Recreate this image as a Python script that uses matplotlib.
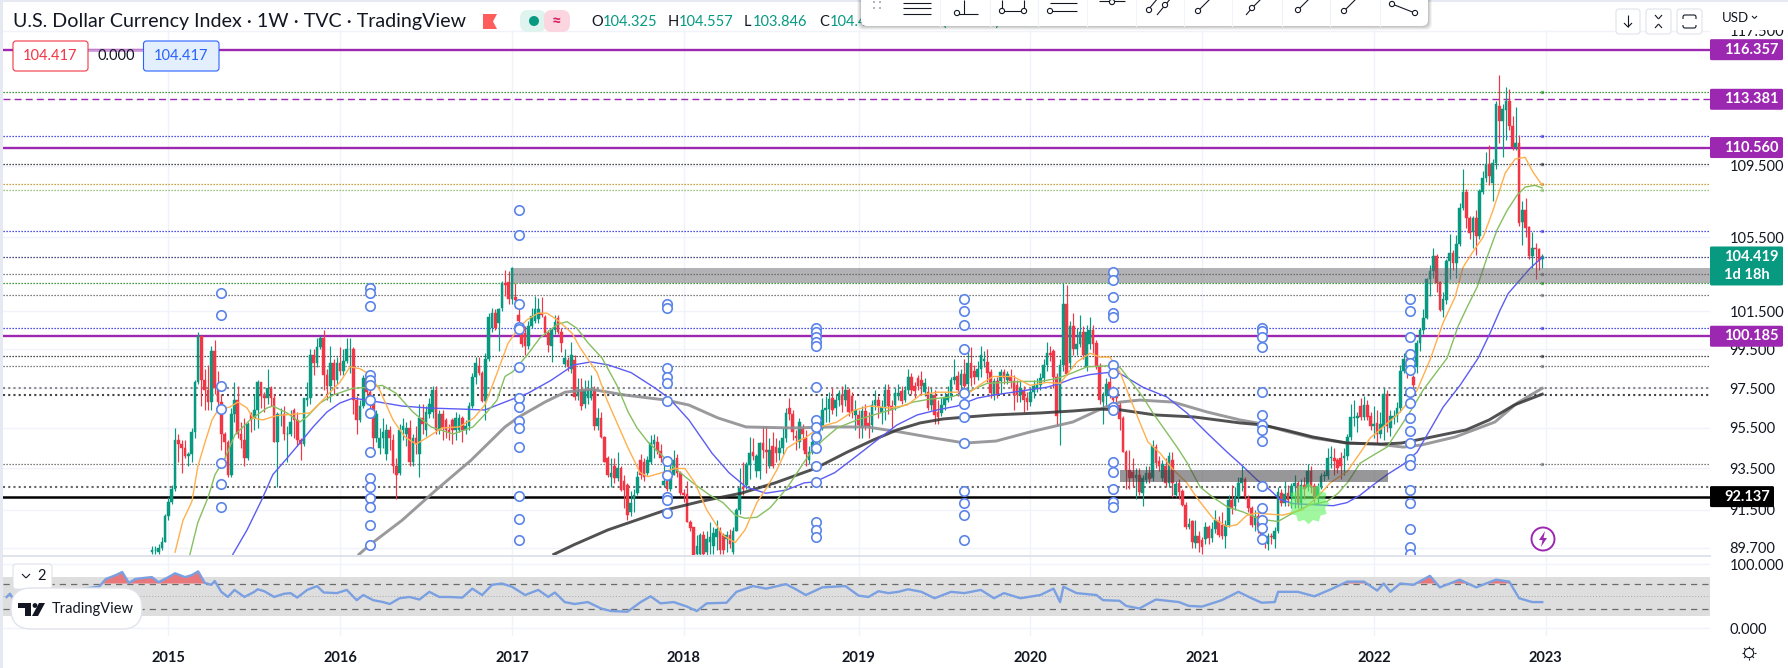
"""Weekly DXY chart with moving averages, level lines and an RSI pane."""
import matplotlib
matplotlib.use("Agg")
import matplotlib.pyplot as plt
import numpy as np
from matplotlib.patches import Circle, FancyBboxPatch, Polygon, Rectangle
from matplotlib.path import Path
from matplotlib.ticker import FormatStrFormatter, NullLocator

plt.rcParams["font.family"] = ["Lato", "DejaVu Sans"]

# weekly candles, oldest first
opens = [
    89.5, 89.6, 89.5, 89.7, 90.0, 91.2, 91.9, 92.5, 94.9, 94.7,
    94.5, 94.1, 94.2, 95.3, 97.8, 100.2, 97.9, 97.4, 96.8, 99.4,
    97.5, 96.8, 95.2, 94.8, 93.2, 96.2, 96.9, 95.2, 94.9, 94.0,
    96.2, 96.0, 96.4, 97.8, 97.1, 97.0, 97.5, 97.0, 94.8, 96.2,
    96.2, 95.2, 95.2, 96.4, 95.9, 94.9, 94.7, 96.9, 97.0, 99.2,
    98.8, 99.6, 100.1, 98.2, 97.6, 98.8, 97.9, 98.8, 98.4, 98.9,
    99.5, 99.5, 96.9, 95.9, 96.6, 98.0, 97.3, 96.8, 95.0, 94.5,
    95.0, 94.2, 95.4, 94.9, 93.6, 93.3, 95.4, 95.2, 95.5, 93.8,
    95.0, 94.2, 96.0, 95.4, 96.2, 96.3, 97.4, 95.4, 96.2, 95.9,
    95.4, 95.9, 95.4, 95.4, 96.0, 95.4, 95.6, 96.6, 98.1, 98.65,
    98.3, 96.85, 99.0, 100.6, 101.4, 100.9, 101.7, 103.0, 103.05, 102.15,
    102.25, 101.3, 100.35, 100.35, 99.65, 100.7, 101.0, 101.1, 101.4, 101.2,
    100.35, 99.65, 100.5, 101.15, 100.4, 98.75, 98.95, 98.5, 98.95, 97.1,
    97.4, 96.7, 97.0, 97.0, 97.4, 95.6, 96.0, 95.05, 94.0, 93.1,
    93.6, 93.05, 93.5, 92.9, 92.7, 91.4, 92.0, 92.3, 93.9, 93.8,
    93.3, 93.8, 94.7, 94.8, 94.35, 92.7, 92.9, 92.5, 93.2, 94.0,
    93.3, 92.3, 92.25, 90.9, 90.7, 89.4, 89.4, 90.3, 89.5, 90.0,
    89.8, 90.2, 90.5, 90.3, 90.1, 90.3, 89.5, 90.5, 91.5, 92.6,
    92.7, 93.65, 94.3, 93.4, 93.4, 94.75, 94.4, 93.6, 94.6, 94.55,
    94.25, 94.5, 95.0, 96.5, 96.2, 95.1, 94.8, 95.5, 95.0, 93.9,
    94.3, 94.8, 94.9, 95.5, 96.4, 96.45, 97.0, 96.5, 96.9, 97.15,
    96.9, 97.4, 97.1, 96.15, 96.15, 95.5, 96.35, 95.75, 95.65, 96.65,
    96.9, 96.3, 96.5, 97.4, 96.6, 96.65, 97.1, 97.35, 96.9, 97.4,
    98.1, 97.6, 98.0, 97.9, 97.3, 97.3, 96.65, 97.15, 96.3, 96.25,
    96.65, 96.9, 97.1, 97.9, 98.15, 97.65, 98.25, 97.7, 98.8, 98.4,
    98.05, 98.5, 98.9, 98.85, 98.35, 97.15, 97.85, 97.85, 98.35, 97.9,
    98.15, 97.85, 97.65, 97.15, 97.4, 97.0, 96.8, 97.3, 97.5, 97.65,
    98.0, 98.7, 99.3, 99.4, 98.1, 96.3, 98.7, 101.9, 98.8, 100.7,
    99.5, 99.8, 100.4, 98.6, 99.8, 100.5, 99.85, 98.65, 96.8, 97.1,
    97.8, 97.3, 97.2, 96.65, 96.0, 94.3, 93.45, 93.35, 93.05, 93.2,
    92.3, 92.95, 93.3, 93.05, 94.55, 93.85, 93.05, 93.6, 92.8, 93.9,
    92.2, 92.8, 92.4, 91.75, 90.7, 90.95, 89.95, 90.25, 90.05, 90.1,
    90.7, 90.15, 90.6, 90.95, 90.8, 90.25, 90.8, 91.95, 91.7, 92.1,
    92.8, 93.0, 92.05, 91.6, 90.8, 91.2, 90.6, 90.1, 89.9, 90.25,
    90.1, 90.5, 92.3, 91.85, 92.3, 92.1, 92.65, 92.8, 91.85, 92.7,
    92.6, 93.4, 92.65, 92.1, 92.6, 93.15, 93.15, 94.0, 94.0, 93.9,
    94.0, 94.0, 94.1, 95.05, 96.0, 96.0, 96.6, 96.05, 96.65, 96.1,
    95.6, 95.75, 95.2, 95.55, 97.2, 95.5, 96.0, 96.1, 96.5, 98.4,
    99.0, 98.6, 98.05, 98.6, 99.85, 100.5, 101.15, 103.2, 103.65, 104.45,
    103.05, 101.55, 102.1, 104.2, 104.65, 104.1, 105.15, 107.1, 108.05, 106.55,
    105.8, 106.55, 105.55, 108.05, 108.8, 109.6, 108.55, 109.65, 113.0, 112.1,
    112.75, 113.3, 111.8, 110.6, 110.8, 106.35, 107.0, 106.05, 104.45, 104.9,
    104.85, 104.325,
]
closes = [
    89.6, 89.6, 89.7, 90.0, 91.2, 91.9, 92.5, 94.9, 94.7, 94.5,
    94.1, 94.2, 95.3, 97.8, 100.2, 97.9, 97.4, 96.8, 99.4, 97.5,
    96.8, 95.2, 94.8, 93.2, 96.2, 96.9, 95.2, 94.9, 94.0, 95.7,
    95.9, 96.4, 97.8, 97.1, 97.0, 97.5, 97.0, 94.8, 96.2, 96.2,
    95.2, 95.2, 95.8, 95.9, 94.9, 94.7, 97.0, 97.0, 99.2, 98.8,
    99.6, 100.1, 98.2, 97.6, 98.8, 97.9, 98.8, 98.4, 98.9, 99.5,
    99.5, 96.9, 95.9, 96.6, 98.0, 97.3, 96.8, 95.0, 96.2, 95.0,
    95.3, 95.4, 95.0, 93.6, 93.2, 95.4, 95.6, 95.5, 93.8, 95.0,
    94.7, 96.0, 95.7, 96.3, 96.7, 97.4, 95.4, 96.2, 95.5, 95.4,
    95.3, 95.4, 96.0, 96.0, 95.4, 95.6, 96.6, 98.1, 98.8, 98.3,
    96.85, 99.0, 101.2, 101.4, 100.6, 101.6, 103.0, 102.9, 102.15, 103.8,
    102.1, 101.0, 99.8, 99.7, 100.7, 101.25, 101.6, 101.6, 101.3, 100.35,
    99.75, 100.5, 100.95, 100.4, 99.85, 99.05, 98.6, 99.2, 97.05, 97.4,
    96.6, 97.4, 97.4, 97.4, 95.6, 96.0, 95.05, 93.8, 93.2, 93.3,
    93.05, 93.5, 92.45, 92.45, 91.25, 91.85, 92.2, 93.1, 93.2, 93.1,
    93.9, 94.75, 94.9, 94.35, 94.0, 92.9, 92.5, 93.2, 93.9, 93.3,
    92.3, 92.2, 90.9, 90.65, 89.3, 89.8, 90.3, 89.4, 90.1, 90.2,
    90.4, 90.6, 89.6, 89.6, 90.3, 89.9, 90.5, 91.5, 92.55, 92.5,
    93.65, 94.25, 94.1, 94.1, 94.75, 94.4, 94.3, 94.4, 93.6, 94.25,
    94.5, 95.0, 96.25, 96.2, 95.3, 95.0, 95.8, 95.2, 94.2, 94.3,
    94.8, 95.2, 95.5, 96.4, 96.5, 96.95, 96.4, 96.9, 97.25, 96.65,
    97.4, 96.3, 96.3, 96.4, 95.65, 96.35, 95.6, 95.6, 96.65, 96.9,
    96.6, 96.55, 97.4, 96.6, 96.4, 97.25, 97.25, 96.85, 97.4, 98.1,
    97.4, 97.35, 97.6, 97.6, 97.75, 96.5, 97.15, 96.15, 96.05, 96.65,
    97.05, 97.1, 97.9, 98.1, 97.4, 98.25, 97.6, 98.8, 98.0, 98.1,
    98.5, 99.2, 99.0, 98.3, 97.25, 97.85, 97.15, 98.35, 98.0, 98.25,
    97.85, 97.15, 97.15, 97.5, 96.9, 96.8, 97.3, 97.6, 97.65, 98.0,
    98.7, 99.3, 99.2, 98.1, 96.1, 98.7, 101.9, 98.25, 100.7, 99.5,
    99.8, 100.4, 99.2, 100.4, 100.5, 99.8, 98.6, 96.9, 97.1, 97.7,
    97.2, 96.9, 97.0, 95.95, 94.3, 93.45, 93.05, 93.05, 93.2, 92.35,
    93.05, 93.3, 93.0, 94.6, 93.75, 93.6, 93.7, 92.8, 94.1, 92.8,
    92.75, 92.35, 91.75, 90.7, 90.85, 90.0, 90.25, 89.95, 89.75, 90.7,
    90.15, 90.6, 91.0, 90.3, 90.25, 90.8, 91.95, 91.6, 92.1, 92.8,
    93.05, 92.15, 91.6, 90.8, 91.2, 90.6, 90.2, 90.0, 90.25, 90.2,
    90.5, 92.35, 91.85, 92.25, 91.95, 92.65, 92.8, 91.85, 92.7, 92.5,
    93.4, 92.6, 92.1, 92.6, 93.15, 93.2, 94.0, 94.05, 93.85, 93.5,
    93.6, 94.1, 95.05, 96.05, 96.05, 96.1, 96.05, 96.65, 96.05, 95.6,
    95.7, 95.2, 95.7, 97.2, 95.6, 96.1, 96.1, 96.5, 98.4, 99.0,
    98.6, 98.6, 97.65, 99.85, 100.5, 101.15, 103.2, 103.65, 104.45, 103.0,
    101.55, 102.15, 104.2, 104.65, 104.1, 105.15, 107.1, 108.0, 106.55, 105.75,
    106.55, 105.55, 108.1, 108.8, 109.6, 108.95, 109.65, 113.1, 112.1, 112.8,
    113.3, 111.8, 110.6, 110.8, 106.3, 107.0, 106.0, 104.45, 104.9, 104.85,
    104.2, 104.419,
]
highs = [
    89.8, 89.8, 89.9, 90.2, 91.3, 92.1, 92.7, 95.5, 95.2, 94.9,
    94.9, 94.3, 95.5, 97.9, 100.4, 100.2, 98.5, 98.7, 99.7, 100.0,
    98.4, 97.2, 95.3, 94.9, 96.5, 97.8, 97.6, 95.8, 96.0, 95.8,
    96.3, 97.2, 97.9, 97.8, 97.3, 98.5, 97.6, 97.2, 96.3, 96.5,
    96.6, 95.6, 96.4, 96.5, 96.3, 95.0, 97.0, 97.8, 99.5, 99.5,
    100.1, 100.2, 100.5, 98.5, 99.7, 99.0, 99.1, 99.6, 99.5, 100.1,
    100.1, 99.6, 97.1, 96.9, 98.2, 98.2, 97.5, 96.9, 96.4, 95.5,
    96.0, 95.7, 95.6, 95.2, 94.0, 95.7, 96.0, 95.8, 95.9, 95.2,
    95.6, 96.7, 96.7, 96.6, 97.0, 97.6, 97.6, 96.4, 96.4, 96.0,
    95.7, 96.0, 96.3, 96.2, 96.1, 95.9, 96.8, 98.3, 99.1, 99.1,
    98.4, 99.3, 101.4, 101.7, 101.6, 101.7, 103.1, 103.7, 103.65, 103.9,
    103.0, 101.7, 100.7, 100.7, 101.0, 101.7, 102.3, 102.2, 102.25, 101.3,
    100.5, 100.6, 101.3, 101.3, 100.6, 99.5, 99.1, 99.9, 99.2, 98.0,
    98.0, 97.9, 97.9, 98.2, 97.6, 96.5, 96.3, 95.1, 94.1, 94.0,
    94.0, 94.3, 93.6, 93.2, 92.8, 92.4, 92.5, 93.4, 94.2, 94.0,
    94.1, 95.15, 95.2, 95.1, 94.7, 94.0, 93.2, 93.7, 94.4, 94.2,
    93.4, 92.5, 92.9, 91.0, 90.7, 90.3, 90.4, 90.5, 90.5, 90.9,
    90.7, 91.0, 90.7, 90.4, 90.5, 90.6, 90.7, 91.6, 93.5, 93.8,
    93.8, 95.05, 95.0, 94.2, 94.8, 95.6, 95.6, 95.0, 95.3, 95.0,
    94.9, 95.5, 96.5, 97.0, 96.4, 95.4, 96.0, 95.7, 95.4, 94.6,
    95.2, 95.6, 96.0, 97.0, 97.1, 97.3, 97.5, 97.2, 97.4, 97.6,
    97.7, 97.5, 97.3, 96.9, 96.4, 96.6, 96.7, 96.3, 96.9, 97.4,
    97.1, 96.9, 97.7, 97.7, 96.9, 97.5, 97.7, 97.6, 97.6, 98.5,
    98.3, 97.8, 98.2, 98.4, 98.0, 97.6, 97.5, 97.4, 96.9, 97.0,
    97.3, 97.6, 98.1, 99.0, 98.4, 98.5, 99.0, 99.4, 99.6, 98.7,
    98.9, 99.7, 99.4, 99.5, 98.5, 98.0, 98.1, 98.5, 98.5, 98.4,
    98.5, 98.2, 97.9, 97.9, 97.6, 97.3, 97.5, 97.9, 98.0, 98.3,
    99.0, 99.9, 99.7, 99.5, 98.3, 99.0, 103.0, 102.9, 101.0, 101.4,
    100.6, 101.3, 100.7, 100.8, 101.2, 100.8, 100.0, 98.8, 97.3, 98.0,
    98.1, 97.6, 97.4, 96.8, 96.1, 94.4, 94.4, 94.0, 93.5, 93.5,
    93.2, 93.6, 93.6, 94.9, 94.7, 94.1, 93.9, 94.0, 94.3, 94.3,
    92.9, 93.0, 92.5, 91.9, 91.1, 91.0, 91.0, 90.5, 90.2, 90.9,
    90.8, 90.9, 91.5, 91.2, 91.4, 91.0, 92.2, 92.7, 92.6, 93.1,
    93.6, 93.1, 92.2, 91.7, 91.5, 91.4, 90.8, 90.2, 90.4, 90.4,
    90.7, 92.6, 92.5, 92.9, 92.7, 92.8, 93.2, 92.9, 93.0, 93.1,
    93.7, 93.6, 92.8, 92.8, 93.3, 93.4, 94.5, 94.6, 94.5, 94.0,
    94.3, 94.5, 95.2, 96.7, 96.9, 96.3, 97.0, 97.1, 96.9, 96.3,
    96.6, 96.4, 96.3, 97.5, 97.4, 96.4, 96.4, 96.8, 98.7, 99.3,
    99.2, 99.0, 98.2, 100.0, 100.6, 101.6, 103.3, 104.0, 104.9, 104.6,
    103.1, 102.5, 104.3, 105.7, 104.8, 105.6, 107.4, 109.3, 108.2, 106.7,
    106.7, 107.0, 108.2, 109.2, 110.3, 110.7, 109.9, 113.3, 114.8, 113.1,
    114.1, 114.0, 112.4, 112.9, 111.3, 107.5, 107.7, 106.1, 105.8, 105.2,
    104.9, 104.557,
]
lows = [
    89.4, 89.4, 89.4, 89.6, 90.0, 91.0, 91.8, 92.4, 93.8, 93.3,
    94.0, 93.6, 93.8, 95.0, 97.7, 96.6, 96.4, 96.4, 96.4, 97.2,
    96.6, 94.4, 94.0, 93.1, 93.1, 95.8, 95.0, 94.5, 93.6, 93.9,
    95.3, 95.4, 95.5, 96.5, 96.3, 96.7, 96.6, 94.8, 92.6, 95.6,
    94.9, 93.8, 95.1, 95.0, 94.6, 93.9, 94.6, 96.6, 96.7, 98.2,
    98.6, 99.5, 97.4, 96.9, 96.8, 97.2, 97.7, 98.2, 98.2, 98.8,
    98.3, 96.2, 95.2, 95.8, 96.5, 97.0, 96.2, 94.2, 94.8, 94.2,
    94.5, 93.9, 94.4, 93.3, 92.0, 93.2, 94.9, 94.6, 93.6, 93.6,
    94.2, 93.1, 95.2, 95.1, 96.0, 96.0, 95.2, 95.2, 94.9, 95.0,
    94.9, 94.7, 94.9, 95.3, 94.8, 95.2, 95.4, 96.5, 97.7, 98.2,
    96.8, 95.9, 98.9, 100.4, 100.5, 99.4, 101.5, 102.3, 101.9, 101.9,
    101.7, 100.9, 99.6, 99.2, 99.5, 100.6, 100.9, 100.9, 101.2, 100.2,
    99.35, 98.85, 100.3, 100.3, 99.35, 98.6, 98.4, 98.3, 96.9, 96.9,
    96.4, 96.5, 96.7, 96.9, 95.4, 95.4, 95.0, 93.8, 93.1, 92.6,
    92.8, 92.9, 92.4, 91.6, 91.0, 91.2, 91.4, 92.2, 93.0, 92.9,
    93.2, 93.7, 94.0, 94.2, 93.8, 92.6, 92.4, 92.4, 93.2, 93.1,
    92.2, 91.9, 90.9, 90.5, 89.3, 89.3, 89.3, 89.3, 89.3, 89.4,
    89.4, 89.6, 89.4, 89.4, 89.5, 89.7, 89.4, 90.5, 91.3, 92.2,
    92.5, 93.0, 93.9, 93.1, 93.0, 94.0, 93.3, 93.5, 93.5, 93.8,
    93.9, 94.2, 94.8, 95.9, 94.9, 94.4, 94.5, 94.4, 93.6, 93.7,
    94.2, 94.6, 94.7, 95.4, 95.8, 95.8, 96.2, 96.1, 96.6, 96.3,
    96.6, 96.1, 96.0, 95.4, 95.0, 95.0, 95.4, 95.0, 95.3, 96.4,
    96.0, 95.7, 95.9, 96.2, 95.5, 96.4, 96.9, 96.7, 96.8, 97.2,
    97.2, 97.0, 97.4, 97.2, 97.1, 96.4, 96.4, 95.7, 95.7, 96.1,
    96.4, 96.8, 96.9, 97.7, 97.1, 97.4, 97.4, 97.4, 97.6, 97.7,
    97.9, 98.1, 98.6, 97.8, 97.0, 96.9, 97.0, 97.2, 97.7, 97.7,
    97.5, 96.4, 96.8, 96.8, 96.3, 96.4, 96.6, 97.0, 97.3, 97.4,
    97.8, 98.4, 98.9, 97.5, 95.6, 94.65, 98.4, 98.2, 98.5, 99.2,
    99.2, 99.6, 99.0, 98.4, 99.5, 99.3, 98.5, 96.7, 95.7, 96.6,
    97.0, 96.6, 96.8, 95.4, 94.3, 92.5, 92.5, 92.6, 92.0, 92.2,
    91.7, 92.8, 92.8, 92.9, 93.5, 93.4, 92.9, 92.6, 92.6, 92.1,
    92.1, 92.0, 91.7, 90.6, 90.6, 89.7, 89.7, 89.5, 89.4, 89.9,
    89.9, 90.0, 90.4, 90.2, 90.1, 89.7, 90.7, 91.3, 91.5, 91.9,
    92.4, 92.0, 91.4, 90.7, 90.5, 90.4, 89.9, 89.7, 89.6, 89.9,
    89.7, 90.4, 91.7, 91.7, 91.7, 91.6, 91.6, 91.6, 91.6, 92.0,
    92.4, 92.3, 91.9, 91.8, 92.5, 92.9, 93.0, 93.5, 93.2, 93.3,
    93.0, 93.2, 93.9, 94.9, 95.6, 95.3, 95.9, 95.9, 95.9, 95.4,
    95.0, 94.75, 95.0, 94.9, 95.3, 95.1, 95.7, 95.8, 96.3, 98.3,
    98.0, 98.2, 97.5, 98.3, 99.4, 100.3, 101.1, 102.3, 103.3, 102.5,
    101.5, 101.2, 101.9, 103.2, 103.7, 103.3, 105.0, 107.0, 106.0, 105.4,
    104.9, 104.5, 105.4, 107.9, 108.6, 108.4, 107.5, 109.3, 110.8, 110.0,
    111.0, 111.6, 110.4, 110.4, 106.1, 105.1, 105.5, 104.3, 103.8, 103.2,
    103.7, 103.846,
]

# moving averages, read per week number
ma_orange_x = [7, 9.4, 12.1, 13.9, 16, 18.2, 20, 23.6, 26, 28.8, 30.6, 33.6, 37.3, 39.7, 43.9, 47.8, 50.9, 53.9, 56.9, 60, 63, 66, 69, 73, 76.6, 80, 83.6, 87.8, 93, 97.5, 100.8, 103.9, 107.8, 110.5, 113.6, 116.9, 119.6, 122.7, 127.2, 129.6, 134.8, 137.8, 141.1, 144.2, 147.8, 150.2, 154.5, 158.4, 161.4, 164.4, 168, 172.9, 176.6, 179.6, 183.2, 186.3, 189.3, 192.3, 196.2, 197.8, 202.3, 207.5, 212.9, 217.4, 223.5, 228.7, 232.6, 237.7, 243.8, 247.7, 251.4, 254.7, 260.8, 265.9, 271, 275, 280.1, 284.1, 287.1, 290.1, 293.2, 295.6, 299.2, 301.6, 305.3, 309.2, 313.4, 316.8, 321.3, 325.6, 328.6, 331.6, 334.6, 338, 342.5, 348.3, 352.8, 356.8, 361.9, 365.8, 368.9, 372.8, 378, 383.1, 387, 391, 394.6, 397, 400, 403.1, 406.1, 409.8, 412.8, 415.8, 418.2, 421]
ma_orange = [89.5, 91.0, 91.9, 93.6, 94.75, 95.9, 96.4, 96.55, 96.8, 96.5, 96.0, 95.9, 96.1, 96.15, 96.2, 96.25, 96.75, 97.3, 97.8, 98.6, 98.5, 98.2, 97.4, 95.9, 95.05, 94.7, 95.05, 95.5, 95.55, 96.0, 96.65, 98.0, 99.8, 100.5, 101.05, 101.4, 101.4, 101.05, 100.35, 99.6, 98.3, 96.9, 95.65, 94.5, 93.3, 93.1, 93.3, 93.5, 93.5, 92.8, 91.5, 90.3, 89.95, 90.55, 91.85, 92.6, 93.45, 94.5, 94.9, 95.0, 95.55, 95.8, 96.4, 96.6, 96.5, 96.65, 97.15, 97.3, 97.3, 97.3, 97.75, 98.1, 98.1, 97.65, 97.8, 97.75, 98.85, 99.3, 99.1, 99.1, 98.3, 97.25, 95.75, 94.8, 94.25, 93.45, 92.8, 92.0, 91.1, 90.7, 90.8, 91.25, 91.35, 91.3, 91.25, 91.5, 92.1, 92.8, 93.35, 94.25, 95.0, 95.55, 96.3, 97.4, 98.95, 100.9, 102.25, 103.85, 104.7, 105.5, 107.0, 109.1, 109.9, 110.0, 109.15, 108.4]
ma_green_x = [11.5, 13.9, 17, 19.1, 22.1, 25.1, 29.7, 34.8, 36.6, 40.9, 44.8, 46.9, 50.9, 54.8, 60.9, 66, 69.7, 73.9, 79, 84.5, 91.2, 97.2, 101.5, 104.5, 106.9, 109.3, 113.6, 117.5, 122.7, 125.7, 128.7, 132, 136.3, 140.8, 144.2, 146.9, 150.2, 153.8, 158.4, 163.8, 169, 172.9, 176.6, 179.6, 183.2, 187.2, 192.3, 196.2, 199.3, 203.2, 207.5, 213.5, 220.5, 225.6, 230.5, 235.6, 241.7, 246.8, 252.9, 258.9, 263.8, 268.9, 274.1, 278.9, 283.2, 289.2, 293.2, 296.2, 300.1, 303.1, 307.4, 310.4, 313.4, 317.4, 321.3, 325.6, 330.4, 335.6, 341, 345.5, 350.7, 355.8, 359.2, 362.2, 365.8, 369.8, 374, 378, 381.9, 384.9, 388, 392.2, 395.5, 398.2, 401.3, 404.3, 407.3, 410.4, 413.4, 415.8, 418.8, 421]
ma_green = [89.4, 90.9, 92.1, 93.2, 94.0, 95.15, 95.9, 96.5, 96.6, 96.25, 95.8, 96.05, 96.75, 97.15, 97.5, 97.55, 97.65, 97.25, 96.3, 95.55, 95.2, 95.55, 96.3, 96.9, 98.1, 98.35, 99.2, 100.1, 100.8, 100.95, 100.6, 99.85, 99.05, 97.65, 96.3, 95.5, 94.8, 94.25, 93.5, 92.8, 92.2, 91.85, 91.25, 91.1, 91.15, 91.6, 92.55, 93.5, 94.25, 94.9, 95.5, 95.9, 96.25, 96.5, 96.8, 96.95, 97.05, 97.3, 97.75, 97.8, 97.85, 97.85, 98.0, 98.3, 98.6, 98.65, 98.55, 97.9, 97.05, 96.25, 95.25, 94.55, 93.8, 92.6, 92.1, 91.65, 91.4, 91.05, 90.95, 91.35, 91.75, 91.9, 92.3, 92.85, 93.75, 94.15, 94.55, 95.55, 96.55, 97.4, 98.1, 99.05, 100.7, 101.7, 102.8, 104.4, 105.9, 107.0, 107.85, 108.3, 108.4, 108.25]
ma_blue_x = [24.5, 28.8, 33.3, 36.6, 40.9, 44.8, 48.8, 53, 56.9, 60.9, 68.7, 75.7, 83.6, 93, 100.8, 106.9, 113.9, 120.8, 127.8, 132.9, 138.1, 145.1, 152, 156.6, 162.6, 169.6, 174.7, 179.9, 185.9, 192, 197.5, 200.8, 206.8, 212.9, 219.6, 225.6, 231.7, 237.7, 243.8, 249.9, 254.7, 260.8, 266.8, 271, 275, 278.9, 284.1, 289.2, 293.2, 300.1, 307.4, 313.4, 319.5, 325.6, 330.4, 334.6, 338.6, 341.6, 345.5, 351.6, 357.7, 361.9, 365.8, 369.8, 374, 378.9, 383.1, 387, 391, 396.1, 401.6, 405.2, 408.2, 410.7, 413.4, 417.3, 421]
ma_blue = [89.4, 90.55, 92.0, 93.2, 94.0, 94.75, 95.55, 96.3, 96.75, 97.0, 96.8, 96.6, 96.5, 96.45, 96.4, 96.8, 97.25, 97.9, 98.7, 98.85, 98.7, 98.3, 97.55, 97.0, 95.9, 94.25, 93.3, 92.6, 92.3, 92.45, 92.8, 92.85, 93.3, 94.05, 94.9, 95.65, 96.15, 96.4, 96.6, 97.0, 97.15, 97.3, 97.45, 97.55, 97.75, 98.0, 98.2, 98.3, 98.25, 97.55, 97.05, 96.25, 95.25, 94.3, 93.6, 92.95, 92.45, 92.0, 91.8, 91.75, 91.7, 91.85, 92.2, 92.7, 93.2, 93.7, 94.3, 95.4, 96.55, 97.65, 99.05, 100.35, 101.55, 102.45, 103.0, 103.8, 104.4]
ma_gray_x = [62.7, 66, 75.7, 86, 96.6, 106.9, 111.1, 119, 125.1, 132.9, 143.5, 155.7, 162.6, 171.4, 179.9, 193.8, 205.9, 216.5, 226.5, 236.8, 246.2, 255.6, 265.9, 278.9, 288, 293.2, 299.2, 309.2, 319.5, 329.5, 334.6, 343.1, 351.6, 361.9, 371, 378.9, 384.3, 394.6, 406.7, 413.4, 421]
ma_gray = [89.4, 89.85, 91.0, 92.45, 93.9, 95.55, 96.05, 96.8, 97.3, 97.45, 97.15, 96.9, 96.65, 96.0, 95.55, 95.5, 95.55, 95.55, 95.3, 95.0, 94.75, 94.85, 95.3, 95.8, 96.5, 96.8, 96.9, 96.8, 96.3, 95.9, 95.75, 95.35, 95.0, 94.75, 94.7, 94.55, 94.65, 95.05, 95.8, 96.75, 97.5]
ma_dark_x = [121.7, 127.8, 138.1, 155.7, 166, 178.4, 188.7, 200.8, 210.5, 218.4, 225.6, 232.6, 239.6, 246.8, 254.7, 268.9, 278.9, 286.5, 293.5, 303.8, 315.6, 329.5, 336.2, 343.1, 351.6, 361.9, 372.2, 378.3, 386.1, 397.9, 404.9, 412.5, 421]
ma_dark = [89.4, 89.85, 90.55, 91.5, 91.9, 92.3, 92.8, 93.5, 94.3, 94.9, 95.4, 95.75, 95.95, 96.05, 96.15, 96.25, 96.35, 96.45, 96.4, 96.15, 96.05, 95.75, 95.65, 95.4, 95.05, 94.75, 94.7, 94.75, 95.0, 95.4, 95.9, 96.65, 97.2]

# circle clusters printed by the indicator every 45 weeks
circle_weeks = [21, 66, 111, 156, 201, 246, 291, 336, 381]
circle_prices = [
    [102.45, 101.3, 97.6, 96.45, 93.75, 92.75, 91.65],
    [102.75, 102.45, 101.8, 98.2, 97.9, 97.65, 96.9, 96.25, 94.3, 93.05, 92.6, 92.05, 91.65, 90.8, 89.85],
    [107.0, 105.65, 101.9, 100.65, 100.55, 98.6, 97.0, 96.55, 95.85, 95.5, 94.55, 92.15, 91.05, 90.05],
    [101.9, 101.7, 98.55, 98.05, 97.75, 96.85, 93.85, 93.2, 92.1, 91.95, 91.35],
    [100.6, 100.4, 100.15, 99.9, 99.7, 97.55, 95.9, 95.55, 95.05, 94.5, 93.6, 92.85, 90.9, 90.55, 90.2],
    [102.15, 101.5, 100.8, 99.5, 97.25, 96.7, 96.05, 94.75, 92.4, 91.85, 91.25, 90.05],
    [103.6, 103.15, 102.25, 101.4, 101.2, 98.7, 98.3, 97.3, 96.55, 96.4, 93.8, 93.35, 92.5, 91.9, 91.65],
    [100.6, 100.45, 100.15, 99.6, 97.3, 96.15, 95.65, 95.4, 94.85, 92.65, 91.6, 91.0, 90.65, 90.1],
    [102.15, 101.5, 100.15, 99.25, 98.8, 98.45, 97.3, 96.75, 96.0, 95.35, 94.75, 93.95, 93.65, 92.45, 91.85, 90.6, 89.75, 89.4],
]

# horizontal levels drawn across the pane
solid_levels = [116.357, 110.56, 100.185]
dashed_level = 113.381
black_level = 92.137
dotted_prices = [113.84, 111.2, 109.6, 108.45, 108.16, 105.87, 104.417, 103.52, 103.03, 102.34, 100.62, 99.16, 98.64, 93.7]
dotted_colors = ["#0a7d0a", "#1a1ae0", "#111111", "#b8860b", "#7cb35c", "#1a1ae0", "#101060", "#555555", "#0a7d0a", "#555555", "#1a1ae0", "#111111", "#555555", "#555555"]
heavy_dotted_prices = [97.5, 97.16, 92.61]
heavy_dotted_colors = ["#8a8a8a", "#444444", "#666666"]

zone_top = (103.82, 103.02)
zone_bottom = (93.43, 92.86)

# RSI pane
rsi_x = [-44, -43, -42, -19, -16, -14, -11, -9, -7, -5, -2, 0, 2, 5, 7, 10, 12, 14, 16, 18, 19, 21, 23, 25, 28, 31, 32, 34, 37, 40, 42, 44, 47, 50, 52, 56, 59, 62, 64, 67, 70, 72, 75, 78, 81, 84, 87, 90, 94, 97, 100, 103, 106, 109, 113, 117, 120, 122, 125, 128, 132, 136, 139, 144, 148, 151, 154, 158, 162, 165, 168, 174, 177, 182, 186, 192, 195, 198, 203, 210, 214, 217, 220, 223, 226, 229, 233, 237, 242, 246, 251, 255, 258, 263, 269, 273, 275, 276, 280, 286, 288, 293, 295, 299, 304, 311, 314, 318, 324, 329, 333, 336, 340, 341, 347, 352, 357, 362, 367, 371, 373, 375, 378, 382, 387, 390, 396, 401, 407, 411, 414, 418, 421]
rsi = [49, 54, 46, 63, 65, 77, 83, 88, 71, 77, 79, 80, 72, 80, 86, 80, 83, 89, 71, 68, 74, 57, 49, 60, 49, 57, 61, 58, 49, 54, 55, 48, 60, 66, 56, 55, 60, 44, 52, 44, 41, 38, 47, 49, 45, 57, 49, 49, 48, 62, 52, 68, 70, 65, 52, 60, 49, 56, 41, 38, 41, 31, 27, 26, 41, 50, 39, 41, 34, 27, 39, 40, 57, 66, 62, 69, 61, 52, 64, 66, 51, 49, 58, 55, 57, 61, 57, 47, 57, 55, 60, 47, 55, 47, 52, 62, 41, 65, 55, 52, 44, 43, 35, 31, 45, 41, 35, 34, 44, 57, 47, 40, 41, 57, 57, 50, 61, 73, 73, 59, 70, 57, 70, 68, 82, 64, 76, 64, 76, 73, 47, 41, 41]

price_ticks = [117.5, 109.5, 105.5, 101.5, 99.5, 97.5, 95.5, 93.5, 91.5, 89.7]
year_weeks = [5, 57, 109, 161, 214, 266, 318, 370, 422]
year_labels = ["2015", "2016", "2017", "2018", "2019", "2020", "2021", "2022", "2023"]

UP = "#089981"
DOWN = "#f23645"
PURPLE = "#9c27b0"
GRID = "#f0f3fa"
INK = "#131722"
CIRCLE = "#5b84ea"

W, H = 1788, 668
fig = plt.figure(figsize=(W / 100, H / 100), dpi=100, facecolor="white")


def box(left, top, right, bottom):
    return [left / W, 1 - bottom / H, (right - left) / W, (bottom - top) / H]


ax = fig.add_axes(box(3, 29, 1710, 555))
ax.set_yscale("log")
ax.set_xlim(-45.1, 471.8)
ax.set_ylim(89.37, 117.62)
ax.yaxis.set_minor_locator(NullLocator())
ax.yaxis.set_minor_formatter(plt.NullFormatter())
ax.set_yticks(price_ticks)
ax.yaxis.set_major_formatter(FormatStrFormatter("%.3f"))
ax.yaxis.tick_right()
ax.set_xticks(year_weeks)
ax.set_xticklabels([])
ax.tick_params(axis="both", length=0)
ax.tick_params(axis="y", labelsize=10.5, labelcolor=INK, pad=14)
ax.grid(color=GRID, linewidth=1)
ax.set_axisbelow(True)
for s in ax.spines.values():
    s.set_visible(False)

# level lines
for price, color in zip(dotted_prices, dotted_colors):
    ax.axhline(price, color=color, linewidth=0.9, linestyle=(0, (1, 1.4)), zorder=1)
    ax.plot([421], [price], "s", color=color, markersize=1.5, alpha=0.45, zorder=1)
for price, color in zip(heavy_dotted_prices, heavy_dotted_colors):
    ax.axhline(price, color=color, linewidth=1.5, linestyle=(0, (1, 1.5)), zorder=1)
for price in solid_levels:
    ax.axhline(price, color=PURPLE, linewidth=1.7, zorder=3)
ax.axhline(dashed_level, color=PURPLE, linewidth=1, linestyle=(0, (5, 3)), zorder=3)
ax.axhline(black_level, color="black", linewidth=1.8, zorder=3)

# candles
weeks = np.arange(len(closes))
o = np.array(opens)
c = np.array(closes)
candle_colors = np.where(c >= o, UP, DOWN)
ax.vlines(weeks, lows, highs, colors=candle_colors, linewidth=0.85, zorder=4)
ax.bar(weeks, np.abs(c - o), bottom=np.minimum(o, c), width=0.8, color=candle_colors,
       edgecolor=candle_colors, linewidth=0.3, zorder=4)

# moving averages
ax.plot(ma_gray_x, ma_gray, color="#8f8f93", linewidth=2.1, alpha=0.9, zorder=5)
ax.plot(ma_dark_x, ma_dark, color="#333333", linewidth=2.1, alpha=0.85, zorder=5)
ax.plot(ma_blue_x, ma_blue, color="#5c5cf5", linewidth=1.0, zorder=6)
ax.plot(ma_green_x, ma_green, color="#86bf60", linewidth=1.0, zorder=6)
ax.plot(ma_orange_x, ma_orange, color="#ffb04d", linewidth=1.0, zorder=6)

# shaded zones sit over the candles
ax.fill_between([109.3, 471.8], zone_top[1], zone_top[0], color="#606068", alpha=0.48, linewidth=0, zorder=7)
ax.fill_between([293.2, 374.3], zone_bottom[1], zone_bottom[0], color="#404044", alpha=0.54, linewidth=0, zorder=7)

burst = Path.unit_regular_star(12, innerCircle=0.82)
ax.plot([350], [91.85], marker=burst, markersize=30, color="#62f25f", markeredgewidth=0, alpha=0.6, zorder=7)

for week, prices in zip(circle_weeks, circle_prices):
    ax.plot([week] * len(prices), prices, "o", markersize=6.8, markerfacecolor="white",
            markeredgecolor=CIRCLE, markeredgewidth=1.2, zorder=8, clip_on=True)

# RSI pane
ax2 = fig.add_axes(box(3, 556, 1710, 636))
ax2.set_xlim(ax.get_xlim())
ax2.set_ylim(-12, 113)
ax2.set_yticks([0, 100])
ax2.yaxis.set_major_formatter(FormatStrFormatter("%.3f"))
ax2.yaxis.tick_right()
ax2.set_xticks(year_weeks)
ax2.set_xticklabels(year_labels, fontsize=10.5, color=INK, fontweight="bold")
ax2.tick_params(axis="both", length=0)
ax2.tick_params(axis="y", labelsize=10.5, labelcolor=INK, pad=14)
ax2.tick_params(axis="x", pad=11)
ax2.grid(color=GRID, linewidth=1)
ax2.set_axisbelow(True)
for s in ax2.spines.values():
    s.set_visible(False)
ax2.axhspan(20, 80, color="#dedede", linewidth=0, zorder=1)
ax2.axhline(70, color="#6b6b6b", linewidth=0.9, linestyle=(0, (5, 4)), zorder=2)
ax2.axhline(30, color="#6b6b6b", linewidth=0.9, linestyle=(0, (5, 4)), zorder=2)
ax2.axhline(50, color="#a8a8a8", linewidth=0.7, linestyle=(0, (1, 2)), zorder=2)
rsi_arr = np.array(rsi, dtype=float)
ax2.fill_between(rsi_x, 70, rsi_arr, where=rsi_arr > 70, interpolate=True, color="#e8787c", linewidth=0, zorder=3)
ax2.plot(rsi_x, rsi, color="#7ba0e2", linewidth=1.7, zorder=4)

# chart furniture, placed in figure pixels
ov = fig.add_axes([0, 0, 1, 1], zorder=5)
ov.set_xlim(0, W)
ov.set_ylim(H, 0)
ov.axis("off")


def price_y(price):
    return H - ax.transData.transform((0, price))[1]


def rounded(x0, y0, x1, y1, fc, ec="none", r=2.0, lw=0.8, z=2):
    ov.add_patch(FancyBboxPatch((x0 + r, y0 + r), x1 - x0 - 2 * r, y1 - y0 - 2 * r,
                                boxstyle=f"round,pad={r},rounding_size={r}",
                                fc=fc, ec=ec, lw=lw, zorder=z, mutation_aspect=1))


def tag(price, color, right=1783, height=21):
    y = price_y(price)
    rounded(1710, y - height / 2, right, y + height / 2, color, r=1.5, z=4)
    ov.text(1724, y, f"{price:.3f}", color="white", fontsize=10.5, fontweight="bold",
            ha="left", va="center", zorder=5)


ov.add_patch(Rectangle((0, 0), W, 30, fc="white", ec="none", zorder=1))
ov.add_patch(Rectangle((0, 0), 3, H, fc="#e6e9f2", ec="none", zorder=1))
ov.add_patch(Rectangle((0, 0), W, 1.5, fc="#e6e9f2", ec="none", zorder=1))
ov.plot([3, 1710], [555.5, 555.5], color="#e0e3eb", linewidth=1.4, zorder=1)

ov.text(13, 22, "U.S. Dollar Currency Index · 1W · TVC · TradingView", fontsize=14.1, color=INK,
        ha="left", va="center", zorder=2)
ov.add_patch(Polygon([(483, 14), (497, 14), (493, 21.5), (497, 29), (483, 29)], fc="#ff5c5c", ec="none", zorder=2))
rounded(520, 10, 546, 32, "#dff3ef", r=8)
rounded(544, 10, 570, 32, "#fbd5e0", r=8)
ov.add_patch(Circle((534, 21), 5, fc=UP, ec="none", zorder=3))
ov.text(557, 21, "≈", fontsize=12, color="#d81b60", ha="center", va="center", zorder=3, fontweight="bold")
for x_letter, letter, x_value, value in [(591, "O", 603, "104.325"), (668, "H", 679, "104.557"),
                                         (744, "L", 753, "103.846"), (819, "C", 830, "104.419")]:
    ov.text(x_letter, 22, letter, fontsize=10.5, color=INK, ha="left", va="center", zorder=2)
    ov.text(x_value, 22, value, fontsize=10.5, color=UP, ha="left", va="center", zorder=2)
ov.text(893, 22, "+0.094 (+0.09%)", fontsize=10.5, color=UP, ha="left", va="center", zorder=2)

# position tool readout
ov.plot([88, 143], [50, 50], color="#cc97d8", linewidth=1.8, zorder=2)
rounded(13, 41, 88, 71, "white", ec="#f23645", r=3, z=3)
ov.text(50.5, 56, "104.417", fontsize=10.5, color="#f23645", ha="center", va="center", zorder=4)
ov.text(116, 56, "0.000", fontsize=10.5, color=INK, ha="center", va="center", zorder=4)
rounded(143.5, 41, 219, 71, "#e3effd", ec="#2962ff", r=3, z=3)
ov.text(181, 56, "104.417", fontsize=10.5, color="#2962ff", ha="center", va="center", zorder=4)

# drawing toolbar across the top edge
for off, alpha in [(4, 0.05), (3, 0.07), (2, 0.09), (1, 0.1)]:
    rounded(861 - off, -10, 1428 + off, 26 + off, "#303030", r=6, z=5)
    ov.patches[-1].set_alpha(alpha)
rounded(861, -10, 1428, 26, "white", r=6, z=5)
for sx in [940, 990, 1038, 1087, 1136, 1184, 1232, 1282, 1330, 1380]:
    ov.plot([sx, sx], [0, 26], color="#f0f3fa", linewidth=0.8, zorder=6)
for gx in [873, 879]:
    for gy in [1, 7]:
        ov.add_patch(Rectangle((gx, gy), 1.6, 1.6, fc="#b2b5be", ec="none", zorder=6))


def seg(x0, y0, x1, y1):
    ov.plot([x0, x1], [y0, y1], color=INK, linewidth=0.8, zorder=6, solid_capstyle="butt")


def knob(x, y):
    ov.add_patch(Circle((x, y), 2.6, fc="white", ec=INK, lw=0.8, zorder=7))


for ly in [3, 8, 14]:
    seg(903, ly, 931, ly)
seg(964, 0, 964, 14)
seg(958, 14, 978, 14)
knob(957, 13)
seg(1002, 0, 1002, 11)
seg(1024, 0, 1024, 11)
seg(1002, 11, 1024, 11)
knob(1002, 11)
knob(1024, 11)
seg(1050, 3, 1077, 3)
seg(1050, 11, 1077, 11)
knob(1050, 11)
seg(1099, 1, 1125, 1)
knob(1112, 2)
seg(1148, 10, 1158, -2)
seg(1157, 15, 1171, -2)
knob(1149, 10)
knob(1165, 5)
for kx, ky in [(1198, 11), (1252, 8), (1298, 10), (1344, 11)]:
    seg(kx, ky, kx + 13, ky - 13)
    knob(kx, ky)
seg(1246, 15, 1252, 8)
seg(1392, 4, 1415, 13)
knob(1392, 4)
knob(1415, 13)

# chart buttons and currency
for x0, x1 in [(1616, 1640), (1646, 1671), (1677, 1702)]:
    rounded(x0, 9, x1, 34, "white", ec="#e0e3eb", r=3, z=2)
seg(1628, 15, 1628, 27)
seg(1624, 23, 1628, 27)
seg(1632, 23, 1628, 27)
seg(1655, 15, 1658.5, 19)
seg(1662, 15, 1658.5, 19)
seg(1655, 28, 1658.5, 24)
seg(1662, 28, 1658.5, 24)
rounded(1683, 15, 1696, 28, "white", ec=INK, r=2, z=3)
ov.add_patch(Rectangle((1680, 18.5), 20, 6, fc="white", ec="none", zorder=3))
ov.text(1722, 18, "USD", fontsize=9.5, color=INK, ha="left", va="center", zorder=2)
seg(1752, 16, 1754.5, 18.5)
seg(1757, 16, 1754.5, 18.5)

# price tags carry the same values as the level lines
for price in [116.357, dashed_level, 110.56, 100.185]:
    tag(price, PURPLE)
tag(black_level, "black", right=1774)
last_close = closes[-1]
last_y = price_y(last_close)
rounded(1710, last_y - 10.5, 1783, last_y + 28.5, UP, r=1.5, z=4)
ov.text(1724, last_y, f"{last_close:.3f}", color="white", fontsize=10.5, fontweight="bold",
        ha="left", va="center", zorder=5)
ov.text(1724, last_y + 18, "1d 18h", color="white", fontsize=10.5, fontweight="bold",
        ha="left", va="center", zorder=5)

# alert badge
ov.add_patch(Circle((1543, 539), 11.5, fc="white", ec=PURPLE, lw=1.4, zorder=3))
ov.add_patch(Polygon([(1545, 531), (1539, 540), (1542.5, 540), (1541, 547), (1547, 538), (1543.5, 538)],
                     fc=PURPLE, ec="none", zorder=4))

# study collapse button and watermark
rounded(13, 564, 52, 589, "white", ec="#e0e3eb", r=3, z=3)
seg(22, 574, 26, 578)
seg(30, 574, 26, 578)
ov.text(42, 576.5, "2", fontsize=10.5, color=INK, ha="center", va="center", zorder=4)
rounded(11, 588, 142, 629, "white", ec="#e0e3eb", r=20, lw=1, z=3)
ov.add_patch(Polygon([(18, 603), (31, 603), (31, 616), (25, 616), (25, 608), (18, 608)], fc=INK, ec="none", zorder=4))
ov.add_patch(Circle((35, 605.5), 2.4, fc=INK, ec="none", zorder=4))
ov.add_patch(Polygon([(39, 603), (45, 603), (38, 616), (32, 616)], fc=INK, ec="none", zorder=4))
ov.text(52, 609.5, "TradingView", fontsize=10.5, color=INK, ha="left", va="center", zorder=4)

# settings gear on the time axis
ov.add_patch(Circle((1749, 653), 4.6, fc="white", ec=INK, lw=0.8, zorder=3))
for angle in np.deg2rad(np.arange(0, 360, 45)):
    seg(1749 + 4.6 * np.cos(angle), 653 + 4.6 * np.sin(angle), 1749 + 7 * np.cos(angle), 653 + 7 * np.sin(angle))

fig.savefig("out.png", dpi=100, facecolor="white")
